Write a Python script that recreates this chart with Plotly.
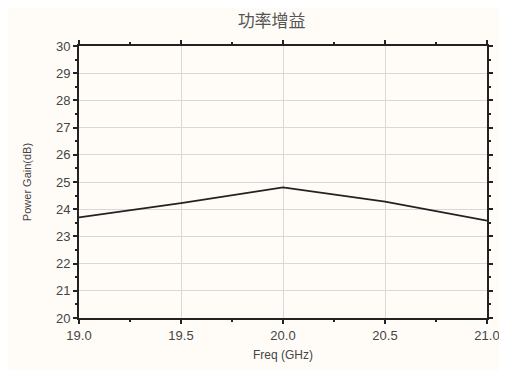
import plotly.graph_objects as go

freq = [19.0, 19.5, 20.0, 20.5, 21.0]
gain = [23.7, 24.22, 24.8, 24.28, 23.58]
x_ticks = [19.0, 19.5, 20.0, 20.5, 21.0]
x_tick_labels = ["19.0", "19.5", "20.0", "20.5", "21.0"]
y_ticks = list(range(20, 31))

fig = go.Figure()
fig.add_trace(go.Scatter(x=freq, y=gain, mode="lines",
                         line=dict(color="#222222", width=1.8), showlegend=False))

bg = "#fffcf8"
fig.update_layout(
    width=507, height=370,
    margin=dict(l=71, r=28, t=38, b=60),
    paper_bgcolor=bg, plot_bgcolor=bg,
    title=dict(text="功率增益", x=0.52, xanchor="center", y=0.965, yanchor="middle",
               font=dict(family="Noto Sans CJK SC", size=17, color="#555555")),
    font=dict(family="Liberation Sans", color="#333333"),
)
fig.update_xaxes(
    range=[19.0, 21.0], tickvals=x_ticks, ticktext=x_tick_labels,
    showgrid=True, gridcolor="#d8d8d8", gridwidth=1,
    showline=True, linecolor="#222222", linewidth=2, mirror="ticks",
    ticks="outside", ticklen=4, tickwidth=1.5, tickcolor="#222222",
    minor=dict(dtick=0.25, ticks="outside", ticklen=2, tickcolor="#222222", showgrid=False),
    tickfont=dict(size=13, color="#444444"),
    title=dict(text="Freq (GHz)", font=dict(size=12, color="#444444"), standoff=9),
    zeroline=False,
)
fig.update_yaxes(
    range=[20, 30], tickvals=y_ticks,
    showgrid=True, gridcolor="#d8d8d8", gridwidth=1,
    showline=True, linecolor="#222222", linewidth=2, mirror="ticks",
    ticks="outside", ticklen=4, tickwidth=1.5, tickcolor="#222222",
    minor=dict(dtick=0.5, ticks="outside", ticklen=2, tickcolor="#222222", showgrid=False),
    tickfont=dict(size=13, color="#444444"),
    title=dict(text="Power Gain(dB)", font=dict(size=11, color="#444444"), standoff=22),
    zeroline=False,
)
fig.write_html("out.html")
